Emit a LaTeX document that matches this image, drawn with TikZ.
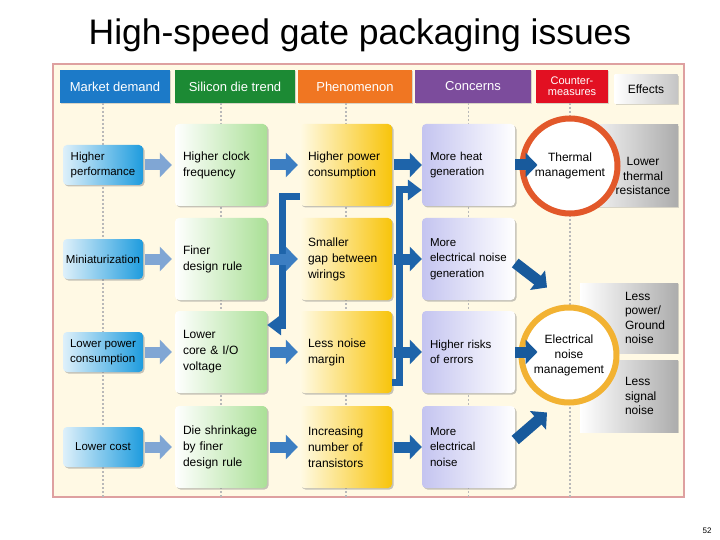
\documentclass[tikz,border=0pt]{standalone}
\usepackage{fontspec}
\setmainfont{Liberation Sans}
\usetikzlibrary{positioning,arrows.meta,shadows}
\hyphenpenalty=10000
\exhyphenpenalty=10000

\definecolor{framebg}{RGB}{255,249,228}
\definecolor{frameline}{RGB}{222,160,160}
\definecolor{hdblue}{RGB}{28,122,200}
\definecolor{hdgreen}{RGB}{28,138,52}
\definecolor{hdorange}{RGB}{240,118,34}
\definecolor{hdpurple}{RGB}{124,76,156}
\definecolor{hdred}{RGB}{226,16,34}
\definecolor{mdcyan}{RGB}{30,156,222}
\definecolor{mdpale}{RGB}{222,240,250}
\definecolor{sdgreen}{RGB}{170,224,150}
\definecolor{phgold}{RGB}{248,196,10}
\definecolor{phpale}{RGB}{255,250,228}
\definecolor{colav}{RGB}{196,196,240}
\definecolor{effgray}{RGB}{172,172,172}
\definecolor{arrlight}{RGB}{128,166,212}
\definecolor{arrmid}{RGB}{60,126,194}
\definecolor{arrdark}{RGB}{30,100,170}
\definecolor{arrdeep}{RGB}{24,90,156}
\definecolor{thermring}{RGB}{226,88,42}
\definecolor{elecring}{RGB}{242,178,50}

\begin{document}
\begin{tikzpicture}[x=1pt, y=-1pt,
  hdr/.style={minimum height=33pt, inner sep=0pt, text=white, font=\fontsize{13}{13}\selectfont,
    drop shadow={shadow xshift=1pt, shadow yshift=-1pt, opacity=.3}},
  card/.style={rounded corners=4pt, minimum height=82pt, align=left,
    drop shadow={shadow xshift=1.5pt, shadow yshift=-1.5pt, opacity=.45}},
  mdcard/.style={card, minimum width=80pt, minimum height=40pt, inner xsep=1pt,
    left color=mdpale, right color=mdcyan, font=\fontsize{11.5}{15}\selectfont},
  sdcard/.style={card, text width=76pt, inner xsep=8pt,
    left color=white, right color=sdgreen, font=\fontsize{12}{16}\selectfont},
  phcard/.style={card, text width=76pt, inner xsep=8pt,
    left color=phpale, right color=phgold, font=\fontsize{12}{16}\selectfont},
  cocard/.style={card, text width=77pt, inner xsep=8pt,
    left color=colav, right color=white, font=\fontsize{11.5}{15.5}\selectfont},
  effbox/.style={minimum width=98pt, inner sep=0pt, left color=white, right color=effgray,
    drop shadow={shadow xshift=1pt, shadow yshift=-1pt, opacity=.3}},
  efftext/.style={inner sep=0pt, align=left, font=\fontsize{12}{14.5}\selectfont},
  ring/.style={circle, fill=white, line width=6pt, inner sep=0pt, align=center,
    minimum size=95pt, font=\fontsize{12}{15}\selectfont},
  dotline/.style={gray!55, line width=1.5pt, dash pattern=on 2pt off 2pt},
  fat/.style={line width=11pt, -{Triangle[width=24pt,length=12pt]}},
  bus/.style={arrdark, line width=7pt, -{Triangle[width=20pt,length=14pt]}}
]
  \useasboundingbox (0,0) rectangle (720,540);

  %Title and page
  \node[font=\fontsize{35.5}{40}\selectfont] (title) at (360,35) {High-speed gate packaging issues};
  \node[font=\fontsize{8}{8}\selectfont] (page) at (707,531) {52};

  %Frame
  \node[draw=frameline, fill=framebg, line width=1.5pt, minimum width=631pt, minimum height=433pt, inner sep=0pt] (frame) at (368.5,280.5) {};

  %Column heads
  \node[hdr, fill=hdblue, minimum width=110pt] (hmd) at (115,86.5) {Market demand};
  \node[hdr, fill=hdgreen, minimum width=120pt] (hsd) at (235,86.5) {Silicon die trend};
  \node[hdr, fill=hdorange, minimum width=114pt] (hph) at (355,86.5) {Phenomenon};
  \node[hdr, fill=hdpurple, minimum width=116pt] (hco) at (473,86.5) {Concerns};
  \node[hdr, fill=hdred, minimum width=72pt, align=center, font=\fontsize{11}{11}\selectfont] (hcm) at (572,86.5) {Counter-\\measures};
  \node[hdr, left color=white, right color=effgray!70, text=black, minimum width=63pt, minimum height=29pt, font=\fontsize{12}{12}\selectfont] (hef) at (646,89.5) {Effects};

  %Dotted guides
  \foreach \x in {103,221,346,468.5,570}
  \draw[dotline] (\x,103) -- (\x,497);

  %Boxes
  \foreach \n/\y/\txt in {1/165/{Higher\\performance},2/259/Miniaturization,3/352/{Lower power\\consumption},4/447/Lower cost}
  \node[mdcard] (md\n) at (103,\y) {\txt};
  \foreach \n/\y/\txt in {1/165/{Higher clock\\frequency},2/259/{Finer\\design rule},3/352/{Lower\\core \& I/O\\voltage},4/447/{Die shrinkage\\by finer\\design rule}}
  \node[sdcard] (sd\n) at (221,\y) {\txt};
  \foreach \n/\y/\txt in {1/165/{Higher power\\consumption},2/259/{Smaller\\gap between\\wirings},3/352/{Less noise\\margin},4/447/{Increasing\\number of\\transistors}}
  \node[phcard] (ph\n) at (346,\y) {\txt};
  \foreach \n/\y/\txt in {1/165/{More heat\\generation},2/259/{More\\electrical noise\\generation},3/352/{Higher risks\\of errors},4/447/{More\\electrical\\noise}}
  \node[cocard] (co\n) at (468.5,\y) {\txt};

  %Effects
  \node[effbox, minimum width=100pt, minimum height=82pt] (ef1) at (628,166) {};
  \node[effbox, minimum height=70pt] (ef2) at (629,318) {};
  \node[effbox, minimum height=72pt] (ef3) at (629,396) {};
  \node[efftext, align=center] (ef1txt) at ([xshift=15pt,yshift=-10pt]ef1.center) {Lower\\thermal\\resistance};
  \node[efftext, right=45pt of ef2.west] (ef2txt) {Less\\power/\\Ground\\noise};
  \node[efftext, right=45pt of ef3.west] (ef3txt) {Less\\signal\\noise};

  %Counter-measures
  \node[ring, draw=thermring] (therm) at (570,166) {Thermal\\management};
  \node[ring, draw=elecring] (elec) at (569,355) {Electrical\\noise\\management};

  %Feedback lines
  \draw[bus] ([yshift=-32pt]ph1.west) -| ([xshift=15pt,yshift=27pt]sd3.east) -- ([yshift=27pt]sd3.east);
  \draw[bus] ([yshift=-30pt]ph3.east) -| ([xshift=-22pt,yshift=-25pt]co1.west) -- ([yshift=-25pt]co1.west);

  %Block arrows
  \foreach \n in {1,...,4}{
    \draw[fat, arrlight, shorten <=2pt, shorten >=3pt] (md\n) -- (sd\n);
    \draw[fat, arrmid, shorten <=3pt, shorten >=2pt] (sd\n) -- (ph\n);
    \draw[fat, arrdark, shorten <=2pt] (ph\n) -- (co\n);
  }
  \draw[fat, arrdeep, shorten >=-18pt] (co1.east) -- (co1.east -| therm.west);
  \draw[fat, arrdeep, shorten >=-19pt] (co3.east) -- (co3.east -| elec.west);
  \draw[fat, arrdeep] ([yshift=-4pt]co2.east) -- ([xshift=-22pt,yshift=17pt]elec.north);
  \draw[fat, arrdeep] ([yshift=7pt]co4.east) -- ([xshift=-22pt,yshift=-7pt]elec.south);

\end{tikzpicture}
\end{document}
